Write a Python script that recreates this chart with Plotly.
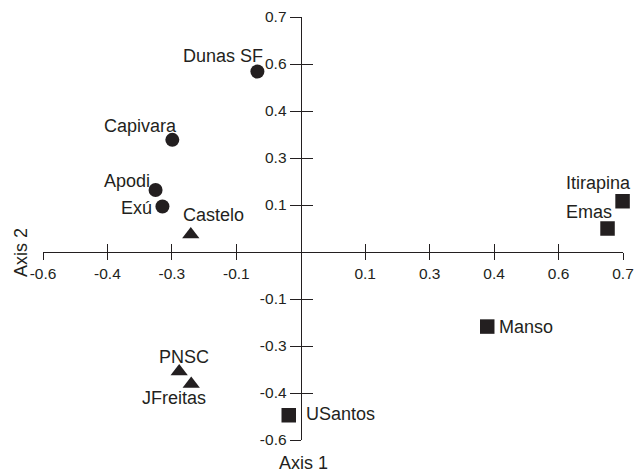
import plotly.graph_objects as go

# ---- data ----
sites = ["Dunas SF", "Capivara", "Apodi", "Exú", "Castelo", "PNSC", "JFreitas",
         "USantos", "Manso", "Emas", "Itirapina"]
axis1 = [-0.101, -0.299, -0.338, -0.322, -0.256, -0.283, -0.255,
         -0.028, 0.434, 0.714, 0.749]
axis2 = [0.576, 0.358, 0.198, 0.145, 0.056, -0.381, -0.421,
         -0.521, -0.238, 0.075, 0.162]
groups = ["circle", "circle", "circle", "circle", "triangle", "triangle", "triangle",
          "square", "square", "square", "square"]

tick_vals = [-0.6, -0.45, -0.3, -0.15, 0.15, 0.3, 0.45, 0.6, 0.75]
x_tick_text = ["-0.6", "-0.4", "-0.3", "-0.1", "0.1", "0.3", "0.4", "0.6", "0.7"]
y_tick_text = ["-0.6", "-0.4", "-0.3", "-0.1", "0.1", "0.3", "0.4", "0.6", "0.7"]

x_range = [-0.6, 0.75]
y_range = [-0.6, 0.75]

# ---- styling ----
INK = "#231f20"
FONT = "Liberation Sans, Arial, sans-serif"
LABEL_SIZE = 18
symbols = {"circle": ("circle", 14), "triangle": ("triangle-up", 15), "square": ("square", 14.5)}
# label placement: (xanchor, xshift, yshift)
label_pos = {
    "Dunas SF": ("right", 8, 16),
    "Capivara": ("right", 7, 14),
    "Apodi": ("right", -4, 9),
    "Exú": ("right", -8, -1),
    "Castelo": ("left", -10, 19),
    "PNSC": ("center", 5, 14),
    "JFreitas": ("center", -17, -14),
    "USantos": ("left", 15, 1),
    "Manso": ("left", 10, 0),
    "Emas": ("right", 6, 17),
    "Itirapina": ("right", 10, 18),
}

fig = go.Figure()
for g in ["circle", "triangle", "square"]:
    idx = [i for i, gg in enumerate(groups) if gg == g]
    sym, size = symbols[g]
    fig.add_trace(go.Scatter(
        x=[axis1[i] for i in idx], y=[axis2[i] for i in idx],
        mode="markers", cliponaxis=False, showlegend=False,
        marker=dict(symbol=sym, size=size, color=INK, line=dict(width=0)),
        hoverinfo="skip"))

# invisible traces to activate overlay axes (for crossing tick marks)
fig.add_trace(go.Scatter(x=axis1, y=axis2, xaxis="x2", yaxis="y", mode="markers",
                         marker=dict(opacity=0), showlegend=False, hoverinfo="skip"))
fig.add_trace(go.Scatter(x=axis1, y=axis2, xaxis="x", yaxis="y2", mode="markers",
                         marker=dict(opacity=0), showlegend=False, hoverinfo="skip"))

pos_x = (0 - y_range[0]) / (y_range[1] - y_range[0])   # where x axis crosses (paper y)
pos_y = (0 - x_range[0]) / (x_range[1] - x_range[0])   # where y axis crosses (paper x)

for i, s in enumerate(sites):
    xa, xs, ys = label_pos[s]
    fig.add_annotation(x=axis1[i], y=axis2[i], text=s, showarrow=False,
                       xanchor=xa, yanchor="middle", xshift=xs, yshift=ys,
                       font=dict(size=LABEL_SIZE, color=INK, family=FONT))

fig.add_annotation(xref="paper", yref="paper", x=0.449, y=-0.054, text="Axis 1",
                   showarrow=False, xanchor="center", yanchor="middle",
                   font=dict(size=18, color=INK, family=FONT))
fig.add_annotation(xref="paper", yref="paper", x=-0.038, y=pos_x, text="Axis 2",
                   showarrow=False, xanchor="center", yanchor="middle", textangle=-90,
                   font=dict(size=18, color=INK, family=FONT))

common = dict(showgrid=False, zeroline=False, fixedrange=True, automargin=False)
fig.update_layout(
    width=639, height=472,
    margin=dict(l=43, r=16, t=17, b=32),
    paper_bgcolor="white", plot_bgcolor="white",
    font=dict(family=FONT, color=INK),
    xaxis=dict(range=x_range, anchor="free", position=pos_x,
               showline=True, linecolor=INK, linewidth=1.2,
               ticks="outside", ticklen=7, tickwidth=1.2, tickcolor=INK,
               tickvals=tick_vals, ticktext=x_tick_text,
               tickfont=dict(size=15.5, color=INK, family=FONT), **common),
    xaxis2=dict(range=x_range, overlaying="x", anchor="free", position=pos_x,
                showline=False, ticks="inside", ticklen=8, tickwidth=1.2, tickcolor=INK,
                tickvals=tick_vals, showticklabels=False, **common),
    yaxis=dict(range=y_range, anchor="free", position=pos_y,
               showline=True, linecolor=INK, linewidth=1.2,
               ticks="outside", ticklen=11, tickwidth=1.2, tickcolor=INK,
               tickvals=tick_vals, ticktext=y_tick_text,
               tickfont=dict(size=15.5, color=INK, family=FONT), **common),
    yaxis2=dict(range=y_range, overlaying="y", anchor="free", position=pos_y,
                showline=False, ticks="inside", ticklen=11, tickwidth=1.2, tickcolor=INK,
                tickvals=tick_vals, showticklabels=False, **common),
)

fig.write_html("out.html", config={"displayModeBar": False},
               post_script="document.body.style.margin='0';")
